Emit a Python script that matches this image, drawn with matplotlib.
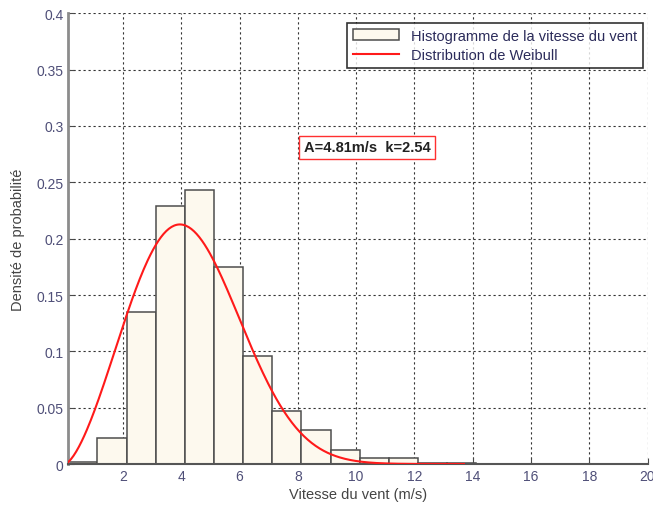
import numpy as np
import matplotlib
matplotlib.use("Agg")
import matplotlib.pyplot as plt

plt.rcParams['font.family'] = ['Liberation Sans', 'DejaVu Sans']

# histogram of wind speed (bin edges + density)
bin_edges = [0.12, 1.12, 2.12, 3.12, 4.12, 5.12, 6.12, 7.12, 8.12, 9.12,
             10.12, 11.12, 12.12, 13.12, 14.12, 15.12]
densite = [0.0015, 0.023, 0.135, 0.229, 0.243, 0.175, 0.096, 0.047, 0.030,
           0.012, 0.005, 0.005, 0.001, 0.0005, 0.0004]

# weibull parameters shown on the chart
A = 4.81
k = 2.54
v_max = 13.7

xticks = [2, 4, 6, 8, 10, 12, 14, 16, 18, 20]
yticks = [0, 0.05, 0.1, 0.15, 0.2, 0.25, 0.3, 0.35, 0.4]
yticklabels = ['0', '0.05', '0.1', '0.15', '0.2', '0.25', '0.3', '0.35', '0.4']

fig = plt.figure(figsize=(6.53, 5.06), dpi=100)
ax = fig.add_axes([0.1046, 0.081, 0.887, 0.8907])

lefts = np.array(bin_edges[:-1])
widths = np.diff(bin_edges)
bars = ax.bar(lefts, densite, width=widths, align='edge', color='#fdf9ee',
              edgecolor='#4d4d4d', linewidth=1.1, zorder=2)

v = np.linspace(bin_edges[0], v_max, 300)
pdf = (k / A) * (v / A) ** (k - 1) * np.exp(-(v / A) ** k)
line, = ax.plot(v, pdf, color='#ff1a1a', lw=1.5, zorder=3)

ax.set_xlim(bin_edges[0], 20)
ax.set_ylim(0, 0.4)
ax.set_xticks(xticks)
ax.set_yticks(yticks)
ax.set_yticklabels(yticklabels)
ax.tick_params(direction='in', length=4, labelsize=10, colors='#4a4a4a',
               labelcolor='#4f4f78')
ax.grid(True, color='#333333', linestyle=(0, (2, 2.5)), linewidth=0.8, zorder=1)
ax.set_axisbelow(True)

for s in ['top', 'right']:
    ax.spines[s].set_visible(False)
ax.spines['left'].set_color('#8c8c8c')
ax.spines['left'].set_linewidth(2)
ax.spines['bottom'].set_color('#555555')
ax.spines['bottom'].set_linewidth(1.5)

ax.set_xlabel('Vitesse du vent (m/s)', fontsize=10.5, color='#444444', labelpad=3)
ax.set_ylabel('Densité de probabilité', fontsize=10.5, color='#444444', labelpad=8)

leg = ax.legend([bars, line],
                ['Histogramme de la vitesse du vent', 'Distribution de Weibull'],
                loc='upper right', bbox_to_anchor=(0.992, 0.979), fontsize=10.5,
                frameon=True, fancybox=False, edgecolor='black',
                handlelength=3.2, borderpad=0.4, labelspacing=0.35,
                borderaxespad=0)
leg.get_frame().set_linewidth(1.2)
for t in leg.get_texts():
    t.set_color('#2b2b5a')

ax.text(8.2, 0.281, 'A=4.81m/s  k=2.54', fontsize=10.5, fontweight='bold',
        color='#222222', va='center', ha='left', zorder=5,
        bbox=dict(boxstyle='square,pad=0.3', facecolor='white',
                  edgecolor='#ff3030', linewidth=1))

fig.savefig('out.png', dpi=100)
